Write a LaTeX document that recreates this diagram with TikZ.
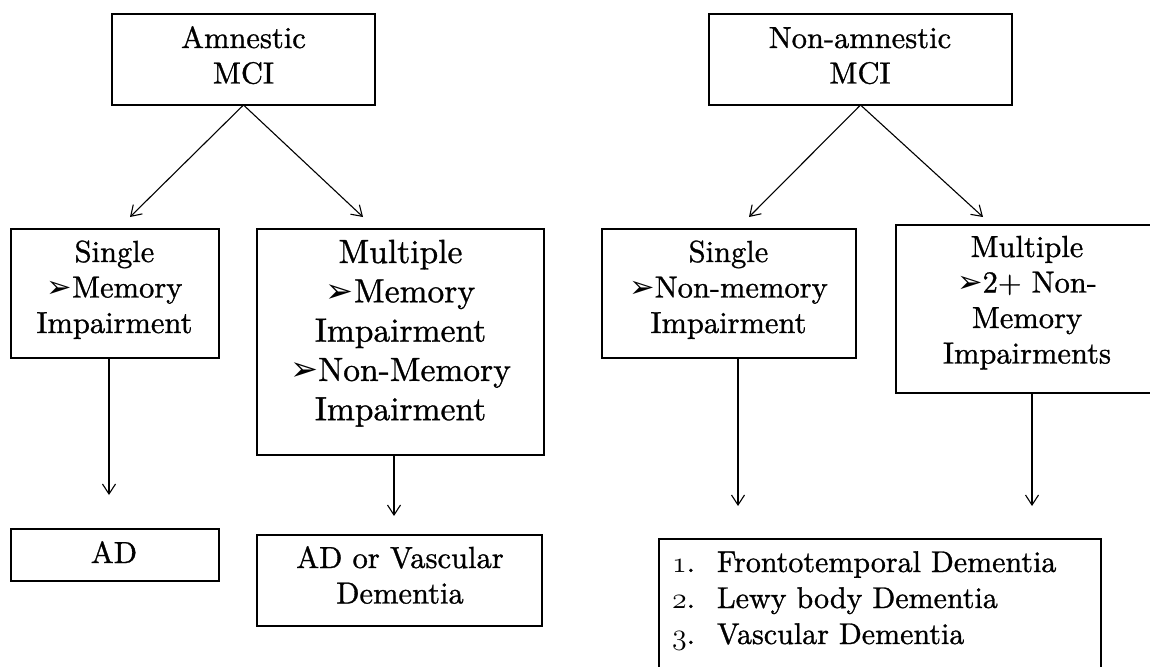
\RequirePackage{fix-cm}
\documentclass[tikz,border=0pt]{standalone}
\usepackage{fontspec}
\setmainfont{lmroman10-regular.otf}[FakeBold=1.0]
\newfontfamily\dejavu{DejaVu Sans}
\usetikzlibrary{arrows.meta}
\newcommand\bul{{\dejavu\symbol{"27A2}}}
\newcommand\osn[1]{{\fontencoding{OML}\fontfamily{cmm}\fontseries{m}\fontshape{it}\selectfont #1}}
\newcommand\regfont{\fontsize{30.5}{35.5}\selectfont}
\newcommand\bigfont{\fontsize{33.5}{39.3}\selectfont}
\newcommand\listfont{\fontsize{30}{36}\selectfont}
\begin{document}
\begin{tikzpicture}[x=1pt,y=-1pt,
  box/.style={draw=black, line width=1.9pt, inner sep=0pt, outer sep=0pt, rectangle},
  txt/.style={inner sep=0pt, outer sep=0pt, anchor=base, font=\regfont, text=black},
  arr/.style={-{Straight Barb[length=10pt,width=13pt]}, line width=1.1pt}]
\useasboundingbox (0,0) rectangle (1150,666);
\fill[white] (0,0) rectangle (1150,666);
\clip (0,0) rectangle (1150,666);

% boxes
\node[box, minimum width=263pt, minimum height=91pt] (amn) at (243.5,59.5) {};
\node[box, minimum width=303pt, minimum height=91pt] (namn) at (860.5,59.5) {};
\node[box, minimum width=208pt, minimum height=129pt] (sgl) at (115,293.5) {};
\node[box, minimum width=287pt, minimum height=226pt] (mul) at (400.5,342) {};
\node[box, minimum width=254pt, minimum height=129pt] (rsgl) at (729,293.5) {};
\node[box, minimum width=264pt, minimum height=168pt] (rmul) at (1028,309) {};
\node[box, minimum width=208pt, minimum height=52pt] (ad) at (115,555) {};
\node[box, minimum width=285pt, minimum height=91pt] (adv) at (399.5,580.5) {};
\node[box, minimum width=442pt, minimum height=161pt] (lst) at (880,619.5) {};

% texts
\node[txt] (amnT) at (243.5,48) {\begin{tabular}[t]{c}Amnestic\\MCI\end{tabular}};
\node[txt] (namnT) at (860,48) {\begin{tabular}[t]{c}Non-amnestic\\MCI\end{tabular}};
\node[txt] (sglT) at (114.5,262) {\begin{tabular}[t]{c}Single\\\bul Memory\\Impairment\end{tabular}};
\node[txt, font=\bigfont] (mulT) at (400.5,263) {\begin{tabular}[t]{c}Multiple\\\bul Memory\\Impairment\\\bul Non-Memory\\Impairment\end{tabular}};
\node[txt] (rsglT) at (728.5,262) {\begin{tabular}[t]{c}Single\\\bul Non-memory\\Impairment\end{tabular}};
\node[txt] (rmulT) at (1027,257) {\begin{tabular}[t]{c}Multiple\\\bul 2+ Non-\\Memory\\Impairments\end{tabular}};
\node[txt] (adT) at (114,563) {AD};
\node[txt] (advT) at (400,568) {\begin{tabular}[t]{c}AD or Vascular\\Dementia\end{tabular}};
\node[txt, anchor=base west, font=\listfont] (lstT) at (672,572) {\begin{tabular}[t]{@{}l@{}}\makebox[45pt][l]{\osn{1}.}Frontotemporal Dementia\\\makebox[45pt][l]{\osn{2}.}Lewy body Dementia\\\makebox[45pt][l]{\osn{3}.}Vascular Dementia\end{tabular}};

% arrows
\coordinate (a1) at (130,217);
\coordinate (a2) at (363,217);
\coordinate (a3) at (749,217);
\coordinate (a4) at (983,217);
\coordinate (a5) at (109,495);
\coordinate (a6) at (394,516);
\coordinate (a7) at (738,506);
\coordinate (a8) at (1032,506);
\draw[arr] (amn.south) -- (a1);
\draw[arr] (amn.south) -- (a2);
\draw[arr] (namn.south) -- (a3);
\draw[arr] (namn.south) -- (a4);
\draw[arr] (a5 |- sgl.south) -- (a5);
\draw[arr] (a6 |- mul.south) -- (a6);
\draw[arr] (a7 |- rsgl.south) -- (a7);
\draw[arr] (a8 |- rmul.south) -- (a8);
\end{tikzpicture}
\end{document}
